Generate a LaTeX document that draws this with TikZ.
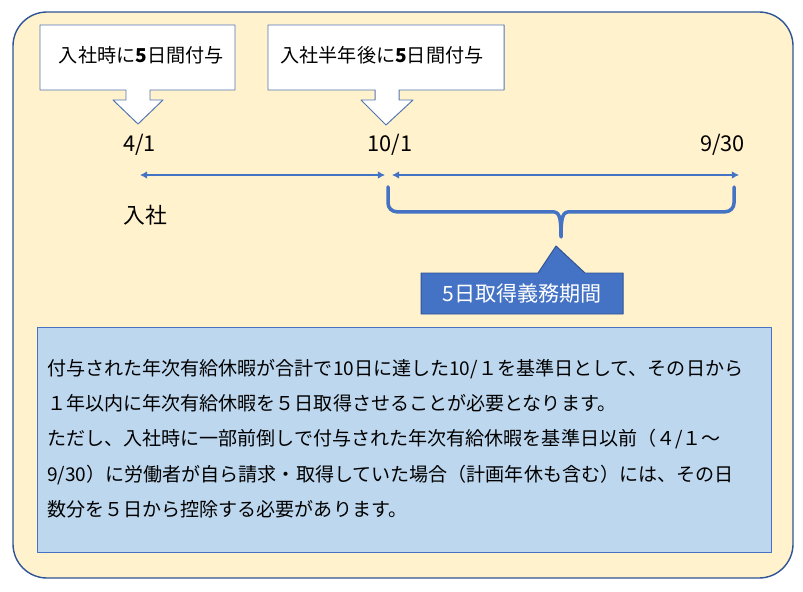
\documentclass[tikz,border=0pt]{standalone}
\usepackage{fontspec}
\setmainfont{Noto Sans CJK JP}
\usetikzlibrary{arrows.meta,calc,positioning}
\definecolor{leavebg}{RGB}{255,242,204}
\definecolor{leaveedge}{RGB}{47,85,151}
\definecolor{leaveblue}{RGB}{68,114,196}
\definecolor{leavebox}{RGB}{189,215,238}
\definecolor{calloutedge}{RGB}{84,118,178}
\begin{document}
\begin{tikzpicture}[>={Latex[length=1.8mm,width=1.9mm]},line cap=round,
                     line join=round,
                     datelabel/.style={font=\fontsize{15.5}{18}\selectfont},
                     callouttext/.style={font=\fontsize{13.6}{16}\selectfont},
                     callout/.style={fill=white,draw=calloutedge,line width=.7pt},
                     spanarrow/.style={<->,leaveblue,line width=.75pt}]
  \useasboundingbox (0,0) rectangle (20.075,14.775);
  % Tło całej planszy.
  \filldraw[fill=leavebg,draw=leaveedge,line width=1pt,rounded corners=.85cm]
       (.325,.325) rectangle (19.825,14.475);
  % Dwa objaśnienia ze strzałką w dół.
  \filldraw[callout]
       (1.0,14.15)--(5.875,14.15)--(5.875,12.525)--(3.75,12.525)
       --(3.75,12.275)--(4.075,12.275)--(3.45,11.675)--(2.825,12.275)
       --(3.15,12.275)--(3.15,12.525)--(1.0,12.525)--cycle;
  \node[callouttext] (grant1) at (3.53,13.4) {入社時に\textbf{5}日間付与};
  \filldraw[callout]
       (6.7,14.15)--(12.6,14.15)--(12.6,12.525)--(9.975,12.525)
       --(9.975,12.275)--(10.325,12.275)--(9.65,11.65)--(9.025,12.275)
       --(9.375,12.275)--(9.375,12.525)--(6.7,12.525)--cycle;
  \node[callouttext] (grant2) at (9.55,13.4) {入社半年後に\textbf{5}日間付与};
  % Daty na osi czasu.
  \node[datelabel] (d41) at (3.49,11.15) {4/1};
  \node[datelabel] (d101) at (9.75,11.15) {10/1};
  \node[datelabel] (d930) at (18.06,11.15) {9/30};
  \node[datelabel] (join) at (3.63,9.4) {入社};
  \coordinate (s1) at (3.5,10.4);
  \coordinate (e1) at (9.625,10.4);
  \coordinate (s2) at (9.8,10.4);
  \coordinate (e2) at (18.475,10.4);
  \draw[spanarrow] (s1)--(e1);
  \draw[spanarrow] (s2)--(e2);
  % Klamra okresu obowiązku.
  \draw[leaveblue,line width=2.5pt]
       (9.7,10.1)--(9.7,9.7) arc[start angle=180,end angle=270,radius=.22]
       --(13.8,9.48) .. controls (13.98,9.48) and (14.025,9.38)
       .. (14.025,8.85) .. controls (14.025,9.38) and (14.07,9.48)
       .. (14.25,9.48)--(18.13,9.48)
       arc[start angle=270,end angle=360,radius=.22]--(18.35,10.1);
  \filldraw[fill=leaveblue,draw=leaveedge,line width=.7pt]
       (10.525,7.95)--(13.45,7.95)--(13.9,8.625)--(14.625,7.95)
       --(15.575,7.95)--(15.575,6.925)--(10.525,6.925)--cycle;
  \fill[leaveblue] (13.47,7.9)--(13.9,8.58)--(14.6,7.9)--cycle;
  \node[white,font=\fontsize{15}{18}\selectfont] (duty) at (13.05,7.44)
       {5日取得義務期間};
  % Pole z objaśnieniem.
  \filldraw[fill=leavebox,draw=leaveblue,line width=.7pt]
       (.925,.975) rectangle (19.275,6.6);
  \node[anchor=north west,align=left,inner sep=0pt,
        font=\fontsize{13.55}{25.1}\selectfont] (note) at (1.175,5.8)
       {付与された年次有給休暇が合計で10日に達した10/１を基準日として、その日から\\
        １年以内に年次有給休暇を５日取得させることが必要となります。\\
        ただし、入社時に一部前倒しで付与された年次有給休暇を基準日以前（４/１～\\
        9/30）に労働者が自ら請求・取得していた場合（計画年休も含む）には、その日\\
        数分を５日から控除する必要があります。};
\end{tikzpicture}
\end{document}
